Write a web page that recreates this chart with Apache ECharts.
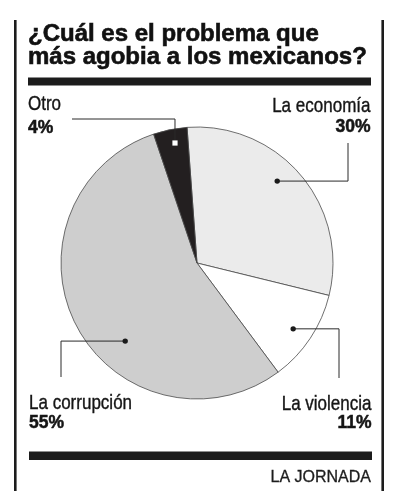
<!DOCTYPE html>
<html><head><meta charset="utf-8">
<script src="https://cdn.jsdelivr.net/npm/echarts@6/dist/echarts.min.js"></script>
<style>html,body{margin:0;padding:0;background:#fff}#c{width:396px;height:500px}</style>
</head><body><div id="c"></div>
<script>
// ---- data ----
const titleLines = ['¿Cuál es el problema que', 'más agobia a los mexicanos?'];
const categories = ['La economía', 'La violencia', 'La corrupción', 'Otro'];
const values = [30, 11, 55, 4];
const sourceText = 'LA JORNADA';

// ---- layout / style ----
const CX = 197, CY = 263, R = 136;
const START = -4.2; // degrees clockwise from 12 o'clock
const sliceColors = ['#ebebeb', '#ffffff', '#cecece', '#231f20'];
const anchorFrac = [0.45, 0.52, 0.40, 0.57];
const anchorR = [0.843, 0.857, 0.78, 0.897];
const labelPos = [
  { x: 370.5, ny: 105.8, vy: 127.2, align: 'right', mode: 'hv', ex: 348, ey: 143 },
  { x: 371.5, ny: 403.8, vy: 423, align: 'right', mode: 'hv', ex: 339, ey: 378 },
  { x: 29, ny: 403, vy: 423, align: 'left', mode: 'hv', ex: 61, ey: 377 },
  { x: 28, ny: 104.5, vy: 128, align: 'left', mode: 'vh', ex: 72, ey: 119 }
];
const FONT = '"Liberation Sans", Arial, sans-serif';
const INK = '#1c1c1c';

const total = values.reduce((a, b) => a + b, 0);
const graphics = [];
// frame
graphics.push({ type: 'rect', shape: { x: 14, y: 20, width: 2.6, height: 471 }, style: { fill: INK } });
graphics.push({ type: 'rect', shape: { x: 381.4, y: 20, width: 2.6, height: 471 }, style: { fill: INK } });
graphics.push({ type: 'rect', shape: { x: 28, y: 77.5, width: 343, height: 8 }, style: { fill: INK } });
graphics.push({ type: 'rect', shape: { x: 29, y: 451.5, width: 343, height: 8.5 }, style: { fill: INK } });
graphics.push({ type: 'text', x: 371, y: 477.5, style: { text: sourceText, fill: INK, font: '16px ' + FONT, textAlign: 'right', textVerticalAlign: 'middle', stroke: INK, lineWidth: 0.3 } });

// labels, leader lines + anchors derived from slice angles
let acc = 0;
values.forEach((v, i) => {
  const th = (START + (acc + anchorFrac[i] * v) / total * 360) * Math.PI / 180;
  acc += v;
  const px = CX + anchorR[i] * R * Math.sin(th);
  const py = CY - anchorR[i] * R * Math.cos(th);
  const L = labelPos[i];
  const pts = L.mode === 'hv' ? [[px, py], [L.ex, py], [L.ex, L.ey]] : [[px, py], [px, L.ey], [L.ex, L.ey]];
  graphics.push({ type: 'polyline', z: 10, shape: { points: pts }, style: { stroke: '#2a2a2a', lineWidth: 1, fill: null } });
  if (i === 3) {
    graphics.push({ type: 'rect', z: 11, shape: { x: px - 2.6, y: py - 2.6, width: 5.2, height: 5.2 }, style: { fill: '#ffffff' } });
  } else {
    graphics.push({ type: 'circle', z: 11, shape: { cx: px, cy: py, r: 2.7 }, style: { fill: '#1a1a1a' } });
  }
  graphics.push({ type: 'text', z: 12, x: L.x, y: L.ny, scaleX: 0.81,
    style: { text: categories[i], fill: '#151515', font: '21px ' + FONT, textAlign: L.align, textVerticalAlign: 'middle', stroke: '#151515', lineWidth: 0.4 } });
  graphics.push({ type: 'text', z: 12, x: L.x, y: L.vy,
    style: { text: values[i] + '%', fill: '#151515', font: 'bold 17.5px ' + FONT, textAlign: L.align, textVerticalAlign: 'middle', stroke: '#151515', lineWidth: 0.5 } });
});

const chart = echarts.init(document.getElementById('c'), null, { renderer: 'canvas' });
chart.setOption({
  animation: false,
  backgroundColor: '#ffffff',
  title: {
    text: titleLines.join('\n'),
    left: 28, top: 23, padding: 0,
    textStyle: { fontFamily: FONT, fontSize: 24, fontWeight: 'bold', color: '#111', lineHeight: 23,
      textBorderColor: '#111', textBorderWidth: 0.6 }
  },
  graphic: graphics,
  series: [{
    type: 'pie',
    silent: true,
    center: [CX, CY],
    radius: R,
    startAngle: 90 - START,
    clockwise: true,
    avoidLabelOverlap: false,
    itemStyle: { borderColor: '#4a4a4a', borderWidth: 0.8 },
    emphasis: { disabled: true },
    label: { show: false },
    labelLine: { show: false },
    data: categories.map((c, i) => ({
      name: c, value: values[i],
      itemStyle: { color: sliceColors[i] }
    }))
  }]
});
</script></body></html>
